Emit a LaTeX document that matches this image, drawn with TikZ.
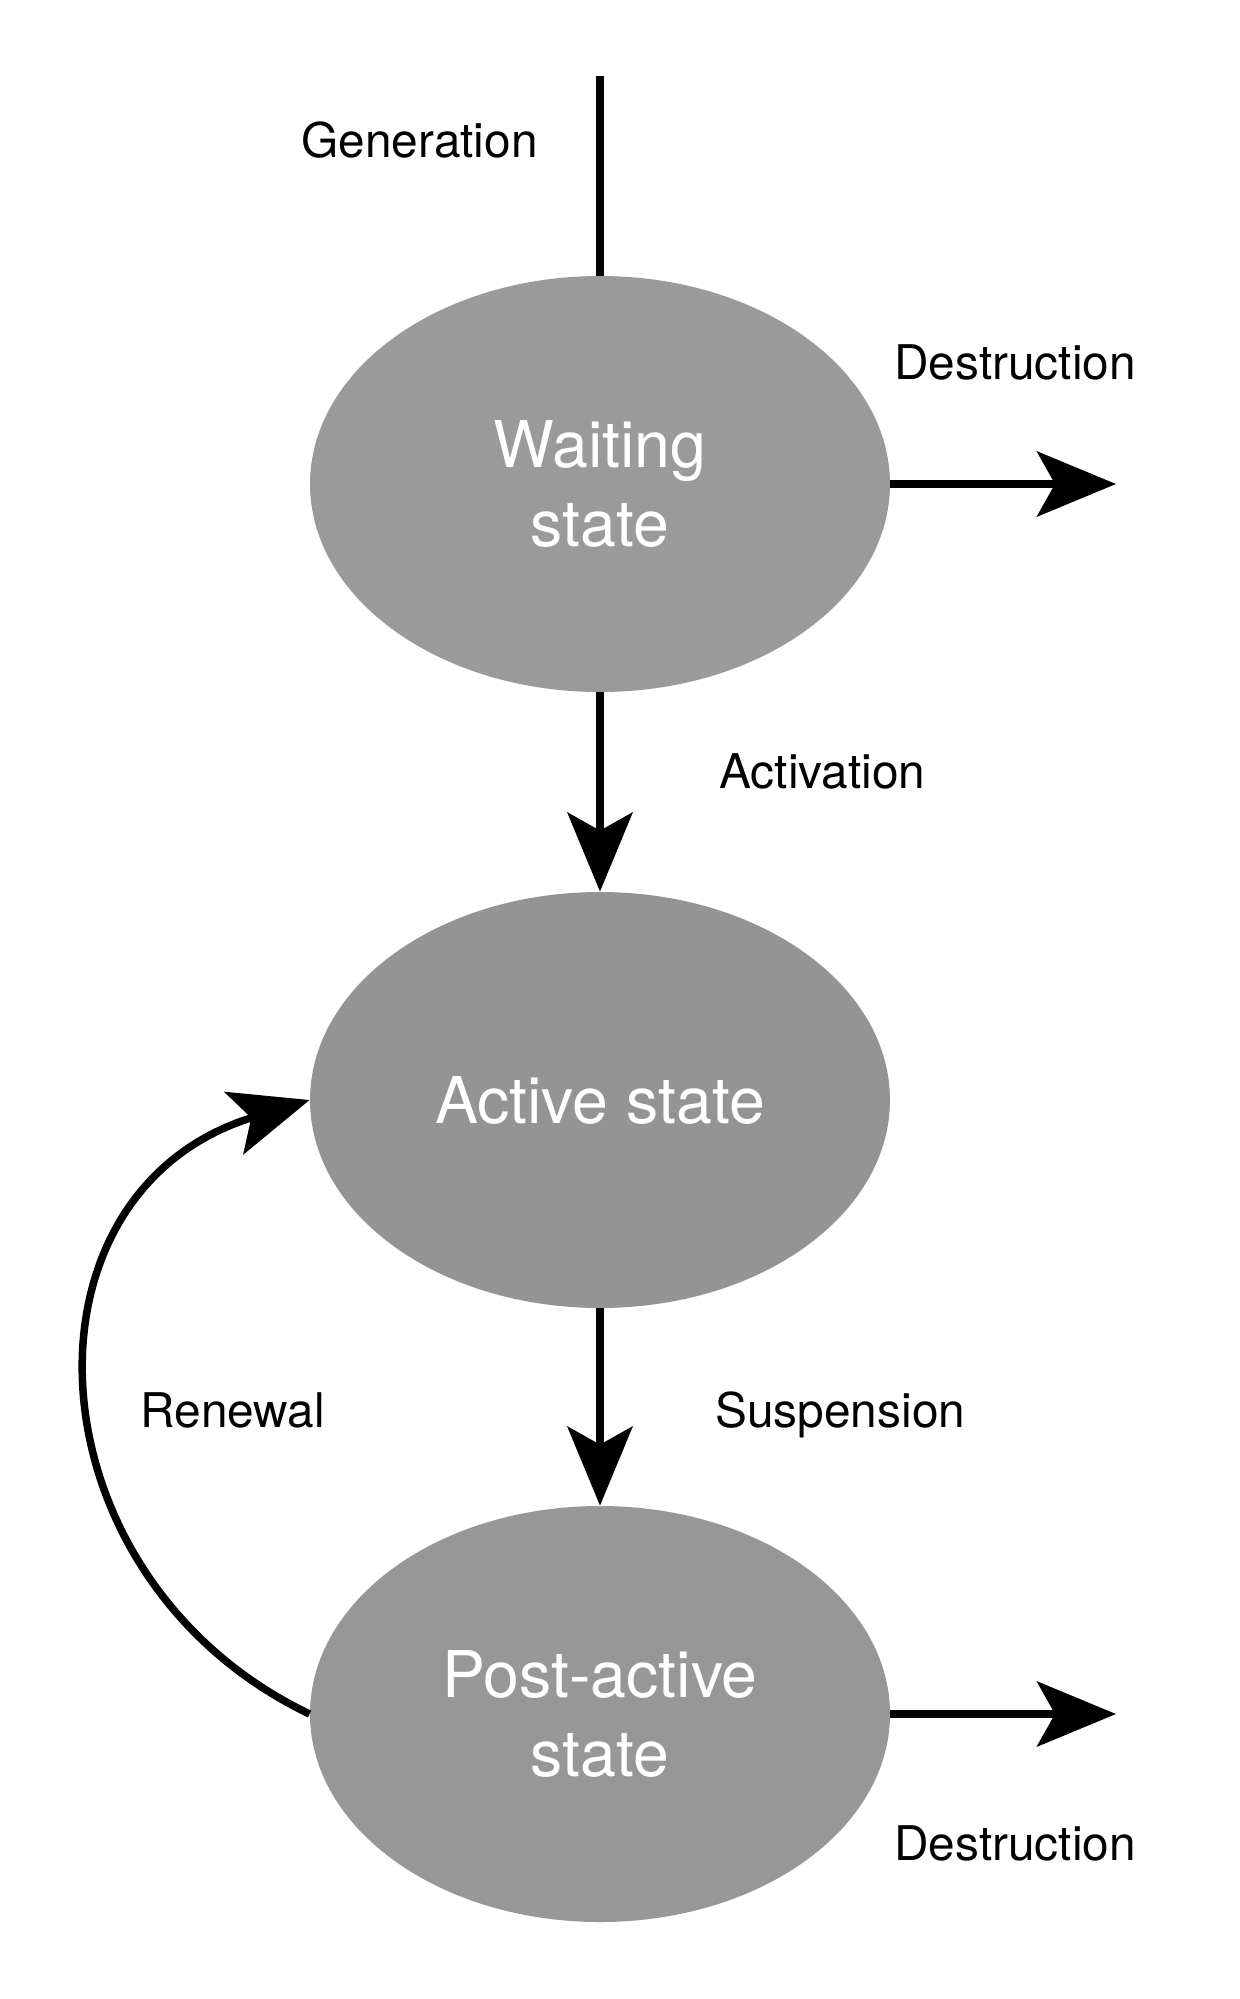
\documentclass[tikz,border=0pt]{standalone}
\usepackage{fontspec}
\setmainfont{TeX Gyre Heros}
\usetikzlibrary{arrows.meta,shapes.geometric}
\definecolor{waitgray}{HTML}{9A9A9A}
\definecolor{actgray}{HTML}{949494}
\definecolor{postgray}{HTML}{979797}
\tikzset{
  statebox/.style={ellipse, draw=none, inner sep=0pt, minimum width=290pt, minimum height=208pt,
    text=white, align=center, font=\fontsize{32.2}{39.5}\selectfont},
  lbl/.style={anchor=base west, inner sep=0pt, font=\fontsize{23.9}{28}\selectfont},
  conn/.style={line width=3.75pt, draw=black},
  arr/.style={conn, -{Stealth[length=39.5pt, width=32.5pt, inset=9pt]}}
}
\begin{document}
\begin{tikzpicture}[x=0.5pt, y=-0.5pt]
\useasboundingbox (0,0) rectangle (1239,1999);
\node[statebox, fill=waitgray] (wait) at (600,484) {Waiting\\state};
\node[statebox, fill=actgray] (act) at (600,1100) {Active state};
\node[statebox, fill=postgray] (post) at (600,1714) {Post-active\\state};
\coordinate (gen) at (600,76);
\coordinate (d1) at (1116,484);
\coordinate (d2) at (1116,1714);
\draw[conn] (gen) -- (wait.north);
\draw[arr] (wait.east) -- (d1);
\draw[arr] (wait.south) -- (act.north);
\draw[arr] (act.south) -- (post.north);
\draw[arr] (post.east) -- (d2);
\draw[arr] (post.west) .. controls (26,1578) and (8,1192) .. (act.west);
\node[lbl] (lgen) at (301,157) {Generation};
\node[lbl] (ldes1) at (894,379) {Destruction};
\node[lbl] (lact) at (719,788) {Activation};
\node[lbl] (lsus) at (715,1427) {Suspension};
\node[lbl] (lren) at (140,1427) {Renewal};
\node[lbl] (ldes2) at (894,1860) {Destruction};
\end{tikzpicture}
\end{document}
